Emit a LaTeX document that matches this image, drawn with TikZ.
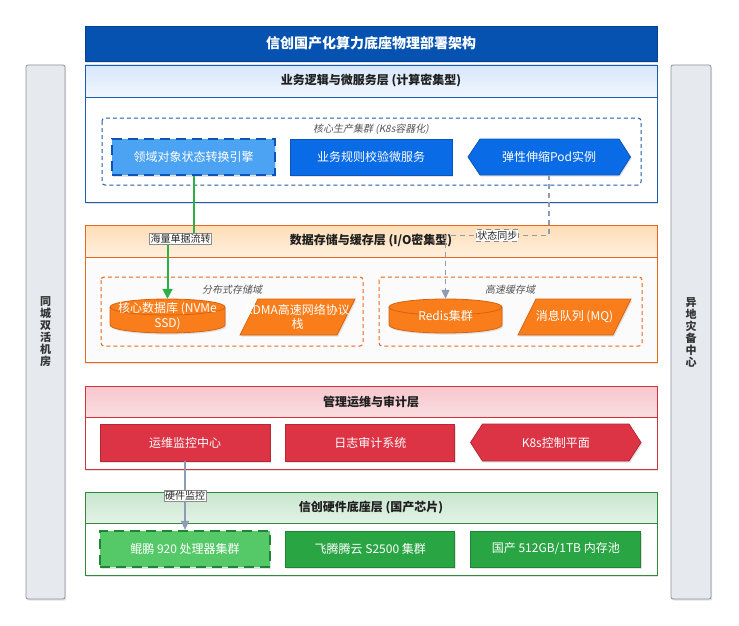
\documentclass[tikz,border=0pt]{standalone}
\usepackage{fontspec}
\setmainfont{Noto Sans CJK SC}[ItalicFont={Noto Sans CJK SC}, ItalicFeatures={FakeSlant=0.2}]
\usetikzlibrary{arrows.meta,shadows}
\definecolor{titleblue}{HTML}{0552B0}
\definecolor{l1border}{HTML}{1A5DB0}
\definecolor{l1top}{HTML}{D6E6FB}
\definecolor{l1bot}{HTML}{F1F7FE}
\definecolor{l2border}{HTML}{E8661E}
\definecolor{l2top}{HTML}{FFDDB5}
\definecolor{l2bot}{HTML}{FFF0DF}
\definecolor{l3border}{HTML}{D0313B}
\definecolor{l3top}{HTML}{F6C7CD}
\definecolor{l3bot}{HTML}{FADDE0}
\definecolor{l4border}{HTML}{2E8B3E}
\definecolor{l4top}{HTML}{C8E6CE}
\definecolor{l4bot}{HTML}{E3F2E6}
\definecolor{lightblue}{HTML}{4CA3F3}
\definecolor{midblue}{HTML}{0A6BE6}
\definecolor{midblueb}{HTML}{0B55B8}
\definecolor{orangef}{HTML}{F97E1B}
\definecolor{orangeb}{HTML}{D9620E}
\definecolor{redf}{HTML}{DC3444}
\definecolor{redb}{HTML}{B82733}
\definecolor{greenf}{HTML}{2AA544}
\definecolor{greenb}{HTML}{1F8535}
\definecolor{lgreenf}{HTML}{55C868}
\definecolor{arrowgreen}{HTML}{2DB043}
\definecolor{arrowgray}{HTML}{8D9BB5}
\definecolor{barfill}{HTML}{E6E9ED}
\definecolor{barborder}{HTML}{8C9198}
\definecolor{grouptext}{HTML}{555555}
\tikzset{
  sh/.style={drop shadow={opacity=0.22, shadow xshift=1.2pt, shadow yshift=-1.6pt}},
  ntext/.style={font=\fontsize{12}{14.5}\selectfont, text=white, align=center, inner sep=0pt},
  boxbase/.style={ntext, sh, line width=0.8pt, minimum height=36pt},
  bluebox/.style={boxbase, fill=midblue, draw=midblueb},
  lbluebox/.style={boxbase, fill=lightblue, draw=midblueb, line width=2.2pt, dash pattern=on 10pt off 6pt},
  redbox/.style={boxbase, fill=redf, draw=redb},
  greenbox/.style={boxbase, fill=greenf, draw=greenb},
  lgreenbox/.style={boxbase, fill=lgreenf, draw=greenb, line width=2.2pt, dash pattern=on 10pt off 6pt},
  hdr/.style={font=\bfseries\fontsize{12}{14}\selectfont, text=black!88},
  grplabel/.style={font=\itshape\fontsize{10}{12}\selectfont, text=grouptext},
  grpbox/.style={dash pattern=on 4pt off 3pt, line width=1pt, rounded corners=3pt},
  edgelabel/.style={font=\fontsize{10}{12}\selectfont, fill=white, draw=black!45, line width=0.5pt, inner sep=1pt, text=black!85},
  sidebar/.style={fill=barfill, draw=barborder, line width=0.8pt, rounded corners=2pt, sh},
  sidetext/.style={font=\bfseries\fontsize{11}{12}\selectfont, align=center, text=black!80},
}
\begin{document}
\begin{tikzpicture}[x=1pt,y=-1pt]
\useasboundingbox (0,0) rectangle (739,626);
\fill[white] (0,0) rectangle (739,626);

% side bars
\draw[sidebar] (26,65) rectangle (65,599);
\node[sidetext] (left) at (45.5,332) {同\\城\\双\\活\\机\\房};
\draw[sidebar] (671,65) rectangle (711,599);
\node[sidetext] (right) at (691,332) {异\\地\\灾\\备\\中\\心};

% title
\node[fill=titleblue, draw=titleblue!80!black, line width=0.6pt, minimum width=572pt, minimum height=35pt, sh,
      font=\bfseries\fontsize{14}{16}\selectfont, text=white] (title) at (371,43.5) {信创国产化算力底座物理部署架构};

% ===== layer 1 =====
\fill[white, sh] (85,65) rectangle (657,202);
\shade[top color=l1top, bottom color=l1bot] (85,65) rectangle (657,97);
\draw[l1border, line width=0.8pt] (85,65) rectangle (657,202) (85,97) -- (657,97);
\node[hdr] (h1) at (371,81) {业务逻辑与微服务层 (计算密集型)};
\draw[grpbox, l1border] (102,118) rectangle (641,185);
\node[grplabel] (g1) at (371,129) {核心生产集群 (K8s容器化)};
\node[lbluebox, minimum width=163pt] (eng) at (193.5,157) {领域对象状态转换引擎};
\node[bluebox, minimum width=162pt] (rule) at (371,157) {业务规则校验微服务};
\fill[midblue, sh] (468,157) -- (480,139) -- (619,139) -- (630.5,157) -- (619,175) -- (480,175) -- cycle;
\draw[midblueb, line width=0.8pt] (468,157) -- (480,139) -- (619,139) -- (630.5,157) -- (619,175) -- (480,175) -- cycle;
\node[ntext, minimum width=162pt, minimum height=36pt] (pod) at (549,157) {弹性伸缩Pod实例};

% ===== layer 2 =====
\fill[white, sh] (85,225) rectangle (657,362);
\fill[black!1.5] (85,257) rectangle (657,362);
\shade[top color=l2top, bottom color=l2bot] (85,225) rectangle (657,257);
\draw[l2border, line width=0.8pt] (85,225) rectangle (657,362) (85,257) -- (657,257);
\node[hdr] (h2) at (371,241) {数据存储与缓存层 (I/O密集型)};
\draw[grpbox, l2border] (101,277) rectangle (363,346);
\node[grplabel] (g2) at (232,290) {分布式存储域};
\draw[grpbox, l2border] (379,277) rectangle (642,346);
\node[grplabel] (g3) at (510,290) {高速缓存域};
% cylinder db
\fill[orangef, sh] (110,307) -- (110,325) arc[start angle=180, end angle=0, x radius=57.5, y radius=8] -- (225,307) arc[start angle=0, end angle=-180, x radius=57.5, y radius=8] -- cycle;
\draw[orangeb, line width=0.8pt] (110,307) -- (110,325) arc[start angle=180, end angle=0, x radius=57.5, y radius=8] -- (225,307) arc[start angle=0, end angle=-180, x radius=57.5, y radius=8] -- cycle;
\draw[orangeb, line width=0.8pt] (110,307) arc[start angle=180, end angle=0, x radius=57.5, y radius=8];
\node[ntext, minimum width=115pt, minimum height=34pt] (db) at (167.5,316) {核心数据库 (NVMe\\SSD)};
% parallelogram rdma
\filldraw[fill=orangef, draw=orangeb, line width=0.8pt, sh] (258,299) -- (355,299) -- (337,335) -- (240,335) -- cycle;
\node[ntext, minimum width=115pt, minimum height=36pt] (rdma) at (297.5,317) {RDMA高速网络协议\\栈};
% cylinder redis
\fill[orangef, sh] (389,307) -- (389,325) arc[start angle=180, end angle=0, x radius=56.5, y radius=8] -- (502,307) arc[start angle=0, end angle=-180, x radius=56.5, y radius=8] -- cycle;
\draw[orangeb, line width=0.8pt] (389,307) -- (389,325) arc[start angle=180, end angle=0, x radius=56.5, y radius=8] -- (502,307) arc[start angle=0, end angle=-180, x radius=56.5, y radius=8] -- cycle;
\draw[orangeb, line width=0.8pt] (389,307) arc[start angle=180, end angle=0, x radius=56.5, y radius=8];
\node[ntext, minimum width=113pt, minimum height=34pt] (redis) at (445.5,316) {Redis集群};
% parallelogram mq
\filldraw[fill=orangef, draw=orangeb, line width=0.8pt, sh] (536,299) -- (631,299) -- (613,335) -- (518,335) -- cycle;
\node[ntext, minimum width=113pt, minimum height=36pt] (mq) at (574.5,317) {消息队列 (MQ)};

% ===== layer 3 =====
\fill[white, sh] (85,386) rectangle (657,469);
\shade[top color=l3top, bottom color=l3bot] (85,386) rectangle (657,417);
\draw[l3border, line width=0.8pt] (85,386) rectangle (657,469) (85,417) -- (657,417);
\node[hdr] (h3) at (371,401.5) {管理运维与审计层};
\node[redbox, minimum width=170pt, minimum height=37pt] (mon) at (185,442.5) {运维监控中心};
\node[redbox, minimum width=169pt, minimum height=37pt] (log) at (370.3,442.5) {日志审计系统};
\fill[redf, sh] (470.5,442.5) -- (482.5,424) -- (629,424) -- (641,442.5) -- (629,461) -- (482.5,461) -- cycle;
\draw[redb, line width=0.8pt] (470.5,442.5) -- (482.5,424) -- (629,424) -- (641,442.5) -- (629,461) -- (482.5,461) -- cycle;
\node[ntext, minimum width=170pt, minimum height=37pt] (k8s) at (555.8,442.5) {K8s控制平面};

% ===== layer 4 =====
\fill[white, sh] (85,492) rectangle (657,575);
\shade[top color=l4top, bottom color=l4bot] (85,492) rectangle (657,523);
\draw[l4border, line width=0.8pt] (85,492) rectangle (657,575) (85,523) -- (657,523);
\node[hdr] (h4) at (371,507.5) {信创硬件底座层 (国产芯片)};
\node[lgreenbox, minimum width=170pt] (kp) at (185,549) {鲲鹏 920 处理器集群};
\node[greenbox, minimum width=169pt] (ft) at (370.3,549) {飞腾腾云 S2500 集群};
\node[greenbox, minimum width=170pt] (mem) at (555.8,549) {国产 512GB/1TB 内存池};

% ===== connectors =====
\draw[arrowgreen, line width=2pt, -{Triangle[width=10pt,length=10pt]}]
  (eng.south) -- ++(0,63) -| (db.north) node[pos=0.25, edgelabel] (lab1) {海量单据流转};
\draw[arrowgray, line width=1.2pt, dash pattern=on 5pt off 4pt, -{Triangle[width=8pt,length=9pt]}]
  (pod.south) -- ++(0,60) -| (redis.north) node[pos=0.25, edgelabel] (lab2) {状态同步};
\draw[arrowgray, line width=1.2pt, -{Triangle[width=8pt,length=9pt]}]
  (mon.south) -- (kp.north) node[midway, edgelabel] (lab3) {硬件监控};
\end{tikzpicture}
\end{document}
